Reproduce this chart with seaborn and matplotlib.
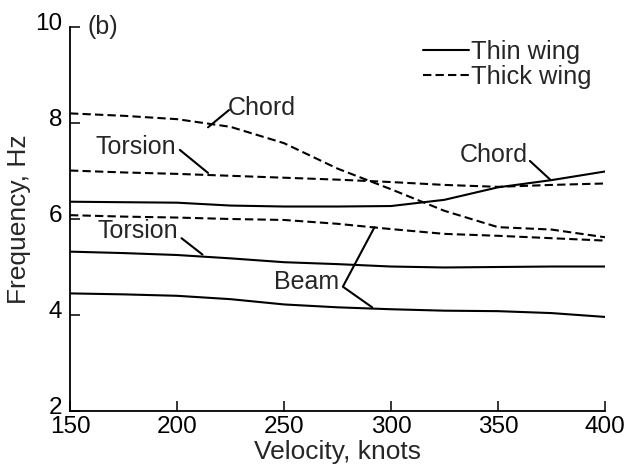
import numpy as np
import pandas as pd
import matplotlib
matplotlib.use("Agg")
import matplotlib.pyplot as plt
import seaborn as sns
from matplotlib.lines import Line2D
from matplotlib.transforms import ScaledTranslation

# Données (fréquence en Hz, vitesse en noeuds)
velocity = [150, 175, 200, 225, 250, 275, 300, 325, 350, 375, 400]

thin_beam = [4.45, 4.43, 4.40, 4.33, 4.22, 4.16, 4.12, 4.09, 4.08, 4.04, 3.96]
thin_torsion = [5.32, 5.29, 5.25, 5.18, 5.10, 5.06, 5.01, 4.99, 5.00, 5.01, 5.01]
thin_chord = [6.36, 6.35, 6.34, 6.28, 6.26, 6.26, 6.27, 6.40, 6.66, 6.81, 6.99]

thick_beam = [6.08, 6.05, 6.03, 6.00, 5.98, 5.90, 5.79, 5.69, 5.65, 5.60, 5.55]
thick_torsion = [7.01, 6.97, 6.94, 6.90, 6.86, 6.82, 6.77, 6.71, 6.67, 6.71, 6.74]
thick_chord = [8.20, 8.15, 8.08, 7.92, 7.58, 7.05, 6.62, 6.17, 5.83, 5.78, 5.62]

wing_labels = ["Thin wing", "Thick wing"]
x_ticks = [150, 200, 250, 300, 350, 400]
y_ticks = [2, 4, 6, 8, 10]

curves = {
    ("Thin wing", "Beam"): thin_beam,
    ("Thin wing", "Torsion"): thin_torsion,
    ("Thin wing", "Chord"): thin_chord,
    ("Thick wing", "Beam"): thick_beam,
    ("Thick wing", "Torsion"): thick_torsion,
    ("Thick wing", "Chord"): thick_chord,
}
rows = []
for (wing, mode), freqs in curves.items():
    for v, f in zip(velocity, freqs):
        rows.append({"velocity": v, "frequency": f, "wing": wing, "curve": wing + " " + mode})
df = pd.DataFrame(rows)

sns.set_style("ticks")
plt.rcParams["font.family"] = ["Liberation Sans", "DejaVu Sans"]
fs_tick = 17.5
fs_note = 18
fs_label = 19

fig = plt.figure(figsize=(6.24, 4.66), dpi=100)
ax = fig.add_axes([70 / 624, 1 - 411 / 466, 535 / 624, 384 / 466])

dash_map = {"Thin wing": "", "Thick wing": (4, 2)}
sns.lineplot(data=df, x="velocity", y="frequency", style="wing", units="curve",
             estimator=None, color="black", linewidth=1.5, dashes=dash_map,
             legend=False, ax=ax)

ax.set_xlim(150, 400)
ax.set_ylim(2, 10)
ax.set_xticks(x_ticks)
ax.set_yticks(y_ticks)
ax.set_xlabel("Velocity, knots", fontsize=fs_label, labelpad=1.5)
ax.set_ylabel("Frequency, Hz", fontsize=fs_label, labelpad=3)
ax.tick_params(direction="in", length=7, width=1.1, labelsize=fs_tick, colors="black")
ax.tick_params(axis="x", pad=3.5)
ax.tick_params(axis="y", pad=5.5)
# les étiquettes de l'axe y sont un peu au-dessus des graduations
for lab in ax.get_yticklabels():
    lab.set_transform(lab.get_transform() + ScaledTranslation(0, 5 / 100, fig.dpi_scale_trans))
for side in ["top", "right"]:
    ax.spines[side].set_visible(False)
for side in ["left", "bottom"]:
    ax.spines[side].set_linewidth(1.3)
    ax.spines[side].set_color("black")

# Annotations
ax.text(158, 10.0, "(b)", fontsize=fs_note, ha="left", va="center")

lw_lead = 1.5
ax.text(223.7, 8.32, "Chord", fontsize=fs_note, ha="left", va="center")
ax.plot([214.5, 224.3], [7.91, 8.27], color="black", lw=lw_lead)

ax.text(162.0, 7.50, "Torsion", fontsize=fs_note, ha="left", va="center")
ax.plot([201.3, 214.5], [7.44, 6.96], color="black", lw=lw_lead)

ax.text(163.0, 5.74, "Torsion", fontsize=fs_note, ha="left", va="center")
ax.plot([202.1, 211.9], [5.60, 5.26], color="black", lw=lw_lead)

ax.text(332.0, 7.33, "Chord", fontsize=fs_note, ha="left", va="center")
ax.plot([364.9, 374.4], [7.21, 6.82], color="black", lw=lw_lead)

ax.text(245.1, 4.69, "Beam", fontsize=fs_note, ha="left", va="center")
ax.plot([292.3, 277.5, 291.2], [5.83, 4.59, 4.16], color="black", lw=lw_lead)

# Légende
handles = [Line2D([], [], color="black", lw=1.5),
           Line2D([], [], color="black", lw=1.5, dashes=(4, 2))]
ax.legend(handles, wing_labels, loc="center left", frameon=False, fontsize=18.3,
          bbox_to_anchor=(423 / 624, 1 - 64.5 / 466), bbox_transform=fig.transFigure,
          handlelength=1.8, handletextpad=0.08, labelspacing=0.02,
          borderpad=0, borderaxespad=0)

fig.savefig("out.png", dpi=100)
plt.close(fig)
